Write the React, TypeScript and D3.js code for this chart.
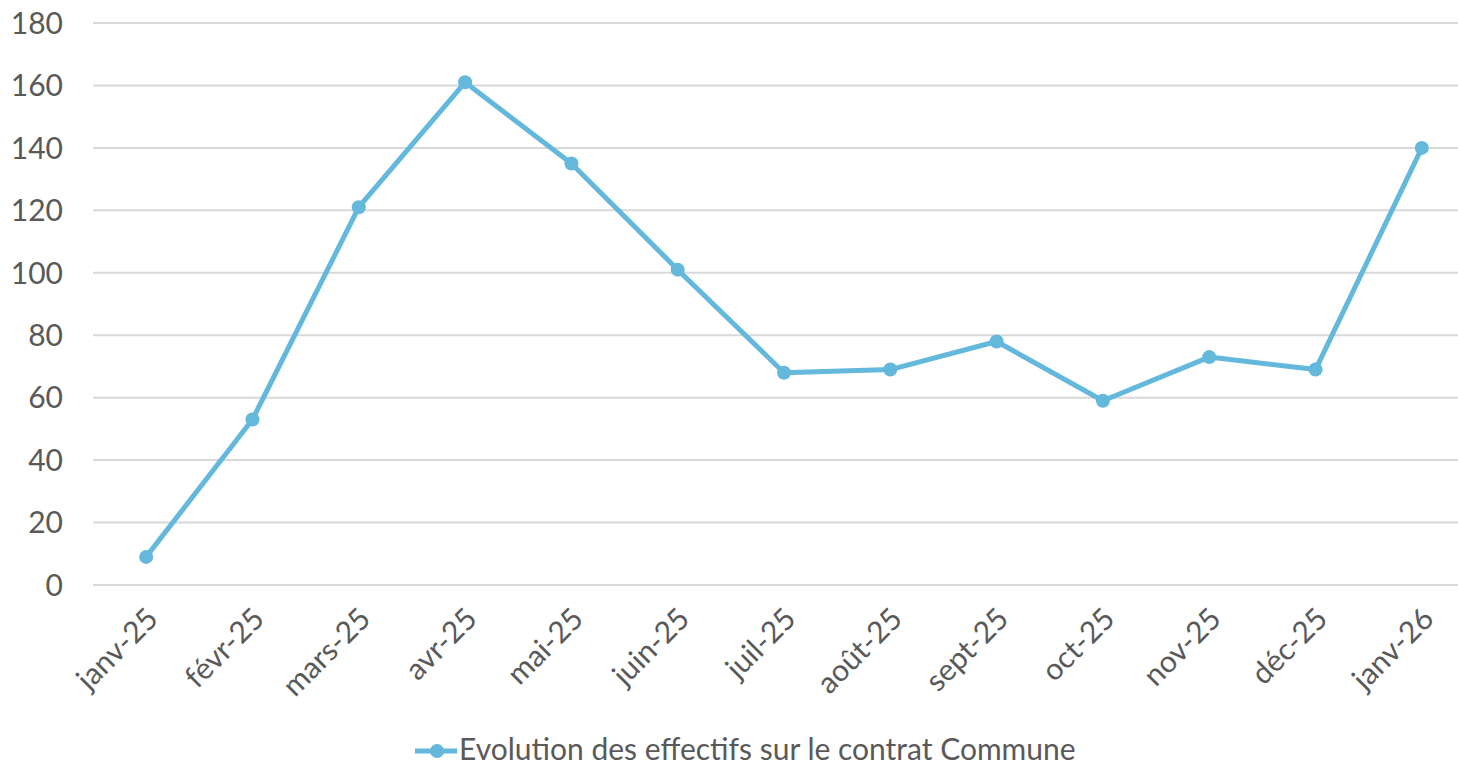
import React from "react";
import * as d3 from "d3";

const categories = ["janv-25","févr-25","mars-25","avr-25","mai-25","juin-25","juil-25","août-25","sept-25","oct-25","nov-25","déc-25","janv-26"];
const values = [9, 53, 121, 161, 135, 101, 68, 69, 78, 59, 73, 69, 140];
const yTicks = [0, 20, 40, 60, 80, 100, 120, 140, 160, 180];
const seriesName = "Evolution des effectifs sur le contrat Commune";

const W = 1458, H = 767;
const margin = { left: 93, top: 23, bottom: 182 };
const plotRight = 1475;
const FONT = "Lato, 'Open Sans', sans-serif";
const COLOR = "#63b8dc";
const TEXT = "#595959";
const FS = 30;

export default function App() {
  const x = d3.scaleBand<string>().domain(categories).range([margin.left, plotRight]);
  const y = d3.scaleLinear().domain([0, 180]).range([H - margin.bottom, margin.top]);
  const cx = (c: string) => (x(c) as number) + x.bandwidth() / 2;
  const line = d3.line<number>().x((_, i) => cx(categories[i])).y((d) => y(d));
  return (
    <svg width={W} height={H} style={{ position: "absolute", left: 0, top: 0 }} fontFamily={FONT}>
      <rect width={W} height={H} fill="#fff" />
      {yTicks.map((t) => (
        <g key={t}>
          <line x1={margin.left} x2={W} y1={y(t)} y2={y(t)} stroke="#d9d9d9" strokeWidth={2} />
          <text x={63} y={y(t)} dy="0.36em" textAnchor="end" fontSize={FS} fill={TEXT}>{t}</text>
        </g>
      ))}
      {categories.map((c) => (
        <text key={c} transform={`translate(${cx(c) + 6},${y(0) + 28}) rotate(-45)`} textAnchor="end" dy="0.36em" fontSize={FS} fill={TEXT}>{c}</text>
      ))}
      <path d={line(values) || ""} fill="none" stroke={COLOR} strokeWidth={5} strokeLinejoin="round" />
      {values.map((v, i) => (
        <circle key={i} cx={cx(categories[i])} cy={y(v)} r={7} fill={COLOR} />
      ))}
      <g>
        <line x1={415} x2={457} y1={751} y2={751} stroke={COLOR} strokeWidth={5} />
        <circle cx={437} cy={751} r={7} fill={COLOR} />
        <text x={459} y={760} fontSize={FS} fill={TEXT}>{seriesName}</text>
      </g>
    </svg>
  );
}
